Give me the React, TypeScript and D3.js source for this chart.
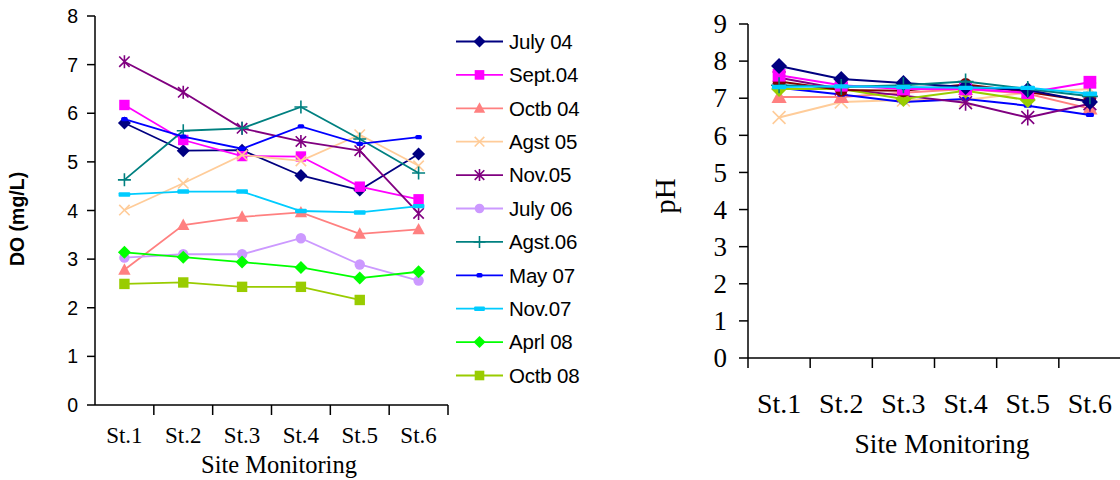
import React from 'react';
import * as d3 from 'd3';

// ---------- data ----------
const stations = ['St.1', 'St.2', 'St.3', 'St.4', 'St.5', 'St.6'];
const doTicks = [0, 1, 2, 3, 4, 5, 6, 7, 8];
const phTicks = [0, 1, 2, 3, 4, 5, 6, 7, 8, 9];

const legendLabels = ['July 04', 'Sept.04', 'Octb 04', 'Agst 05', 'Nov.05', 'July 06', 'Agst.06', 'May 07', 'Nov.07', 'Aprl 08', 'Octb 08'];

const doJuly04 = [5.80, 5.23, 5.24, 4.72, 4.42, 5.16];
const doSept04 = [6.17, 5.45, 5.12, 5.11, 4.49, 4.23];
const doOctb04 = [2.78, 3.70, 3.87, 3.96, 3.52, 3.61];
const doAgst05 = [4.01, 4.56, 5.14, 5.02, 5.56, 4.92];
const doNov05 = [7.06, 6.43, 5.69, 5.42, 5.23, 3.94];
const doJuly06 = [3.03, 3.10, 3.10, 3.43, 2.89, 2.56];
const doAgst06 = [4.63, 5.64, 5.69, 6.13, 5.47, 4.77];
const doMay07 = [5.88, 5.52, 5.27, 5.73, 5.37, 5.51];
const doNov07 = [4.33, 4.39, 4.39, 3.99, 3.96, 4.09];
const doAprl08 = [3.14, 3.04, 2.94, 2.83, 2.61, 2.74];
const doOctb08 = [2.49, 2.52, 2.43, 2.43, 2.16, null];

const phNavy = [7.87, 7.52, 7.41, 7.30, 7.22, 6.90];
const phMagenta = [7.62, 7.35, 7.25, 7.25, 7.15, 7.43];
const phSalmon = [7.03, 7.03, 7.15, 7.25, 7.12, 6.72];
const phPeach = [6.48, 6.90, 6.95, 6.95, 7.15, 7.25];
const phPurple = [7.55, 7.25, 7.07, 6.88, 6.48, 6.85];
const phMaroon = [7.45, 7.22, 7.20, 7.37, 7.17, 6.92];
const phTeal = [7.35, 7.30, 7.35, 7.45, 7.25, 7.05];
const phBlue = [7.28, 7.10, 6.90, 6.98, 6.80, 6.55];
const phCyan = [7.30, 7.32, 7.30, 7.28, 7.28, 7.12];
const phYellowGreen = [7.25, 7.25, 6.98, 7.20, 6.95, null];

// ---------- styles ----------
type Mk = 'diamond' | 'square' | 'triangle' | 'x' | 'asterisk' | 'circle' | 'plus' | 'dashS' | 'dashL';

const doSeries: { values: (number | null)[]; color: string; marker: Mk }[] = [
  { values: doJuly04, color: '#000080', marker: 'diamond' },
  { values: doSept04, color: '#FF00FF', marker: 'square' },
  { values: doOctb04, color: '#FF8080', marker: 'triangle' },
  { values: doAgst05, color: '#FFCC99', marker: 'x' },
  { values: doNov05, color: '#800080', marker: 'asterisk' },
  { values: doJuly06, color: '#CC99FF', marker: 'circle' },
  { values: doAgst06, color: '#008080', marker: 'plus' },
  { values: doMay07, color: '#0000FF', marker: 'dashS' },
  { values: doNov07, color: '#00CCFF', marker: 'dashL' },
  { values: doAprl08, color: '#00FF00', marker: 'diamond' },
  { values: doOctb08, color: '#99CC00', marker: 'square' },
];

const phSeries: { values: (number | null)[]; color: string; marker: Mk }[] = [
  { values: phPeach, color: '#FFCC99', marker: 'x' },
  { values: phSalmon, color: '#FF8080', marker: 'triangle' },
  { values: phBlue, color: '#0000FF', marker: 'dashS' },
  { values: phPurple, color: '#800080', marker: 'asterisk' },
  { values: phYellowGreen, color: '#99CC00', marker: 'diamond' },
  { values: phMaroon, color: '#800000', marker: 'circle' },
  { values: phMagenta, color: '#FF00FF', marker: 'square' },
  { values: phNavy, color: '#000080', marker: 'diamond' },
  { values: phTeal, color: '#008080', marker: 'plus' },
  { values: phCyan, color: '#00CCFF', marker: 'dashL' },
];

function Marker({ type, x, y, color, s }: { type: Mk; x: number; y: number; color: string; s: number }) {
  const t = `translate(${x},${y})`;
  switch (type) {
    case 'diamond':
      return <path transform={t} d={`M0,${-s}L${s},0L0,${s}L${-s},0Z`} fill={color} />;
    case 'square':
      return <rect transform={t} x={-s * 0.8} y={-s * 0.8} width={s * 1.6} height={s * 1.6} fill={color} />;
    case 'triangle':
      return <path transform={t} d={`M0,${-s}L${s * 0.95},${s * 0.75}L${-s * 0.95},${s * 0.75}Z`} fill={color} />;
    case 'circle':
      return <circle cx={x} cy={y} r={s * 0.8} fill={color} />;
    case 'x':
      return <path transform={t} d={`M${-s * 0.8},${-s * 0.8}L${s * 0.8},${s * 0.8}M${-s * 0.8},${s * 0.8}L${s * 0.8},${-s * 0.8}`} stroke={color} strokeWidth={1.6} fill="none" />;
    case 'asterisk':
      return <path transform={t} d={`M${-s * 0.8},${-s * 0.8}L${s * 0.8},${s * 0.8}M${-s * 0.8},${s * 0.8}L${s * 0.8},${-s * 0.8}M0,${-s}L0,${s}`} stroke={color} strokeWidth={1.6} fill="none" />;
    case 'plus':
      return <path transform={t} d={`M${-s},0L${s},0M0,${-s}L0,${s}`} stroke={color} strokeWidth={1.6} fill="none" />;
    case 'dashS':
      return <rect transform={t} x={-s * 0.5} y={-2.2} width={s} height={4.4} rx={1.5} fill={color} />;
    case 'dashL':
      return <rect transform={t} x={-s * 0.9} y={-2.2} width={s * 1.8} height={4.4} rx={1} fill={color} />;
  }
  return null;
}

// ---------- geometry ----------
const L = { x0: 95, x1: 448, yTop: 16, yBot: 405 };
const R = { x0: 748, x1: 1121, yTop: 24, yBot: 358 };

export default function App() {
  const xL = d3.scaleBand<string>().domain(stations).range([L.x0, L.x1]);
  const yL = d3.scaleLinear().domain([0, 8]).range([L.yBot, L.yTop]);
  const xR = d3.scaleBand<string>().domain(stations).range([R.x0, R.x1]);
  const yR = d3.scaleLinear().domain([0, 9]).range([R.yBot, R.yTop]);

  const cxL = (i: number) => (xL(stations[i]) as number) + xL.bandwidth() / 2;
  const cxR = (i: number) => (xR(stations[i]) as number) + xR.bandwidth() / 2;

  const lineL = d3.line<number | null>()
    .defined((d) => d != null)
    .x((_, i) => cxL(i))
    .y((d) => yL(d as number));
  const lineR = d3.line<number | null>()
    .defined((d) => d != null)
    .x((_, i) => cxR(i))
    .y((d) => yR(d as number));

  const sans = 'Arial, "Liberation Sans", sans-serif';
  const serif = '"Times New Roman", "Liberation Serif", serif';

  const legendY = d3.scaleLinear().domain([0, 10]).range([41.5, 375.5]);

  return (
    <svg width={1120} height={480} style={{ position: 'absolute', left: 0, top: 0, background: '#fff' }}>
      <rect width={1120} height={480} fill="#fff" />

      {/* ===== Left chart: DO ===== */}
      <g>
        <line x1={L.x0} x2={L.x0} y1={L.yTop} y2={L.yBot} stroke="#000" strokeWidth={1.5} />
        <line x1={L.x0} x2={L.x1} y1={L.yBot} y2={L.yBot} stroke="#000" strokeWidth={1.5} />
        {doTicks.map((t) => (
          <g key={t}>
            <line x1={L.x0 - 8} x2={L.x0} y1={yL(t)} y2={yL(t)} stroke="#000" strokeWidth={1.5} />
            <text x={78} y={yL(t)} dy="0.36em" textAnchor="end" fontFamily={sans} fontSize={19.5} fill="#000">{t}</text>
          </g>
        ))}
        {stations.map((s, i) => (
          <g key={s}>
            <line x1={(xL(s) as number) + xL.bandwidth()} x2={(xL(s) as number) + xL.bandwidth()} y1={L.yBot} y2={L.yBot + 10} stroke="#000" strokeWidth={1.5} />
            <text x={cxL(i)} y={443} textAnchor="middle" fontFamily={serif} fontSize={23} fill="#000">{s}</text>
          </g>
        ))}
        <text x={279} y={473} textAnchor="middle" fontFamily={serif} fontSize={24.5} fill="#000">Site Monitoring</text>
        <text transform="translate(24,219) rotate(-90)" textAnchor="middle" fontFamily={sans} fontWeight="bold" fontSize={19.5} fill="#000">DO (mg/L)</text>

        {doSeries.map((s, k) => (
          <g key={k}>
            <path d={lineL(s.values) || ''} fill="none" stroke={s.color} strokeWidth={1.8} />
            {s.values.map((v, i) => v == null ? null : (
              <Marker key={i} type={s.marker} x={cxL(i)} y={yL(v)} color={s.color} s={6.5} />
            ))}
          </g>
        ))}

        {legendLabels.map((lab, k) => {
          const y = legendY(k);
          const s = doSeries[k];
          return (
            <g key={lab}>
              <line x1={456} x2={503} y1={y} y2={y} stroke={s.color} strokeWidth={1.8} />
              <Marker type={s.marker} x={479.5} y={y} color={s.color} s={6} />
              <text x={509} y={y} dy="0.36em" fontFamily={sans} fontSize={20.5} letterSpacing={-0.2} fill="#000">{lab}</text>
            </g>
          );
        })}
      </g>

      {/* ===== Right chart: pH ===== */}
      <g>
        <line x1={R.x0} x2={R.x0} y1={R.yTop} y2={R.yBot} stroke="#000" strokeWidth={1.5} />
        <line x1={R.x0} x2={R.x1} y1={R.yBot} y2={R.yBot} stroke="#000" strokeWidth={1.5} />
        <line x1={R.x0} x2={R.x0} y1={R.yBot} y2={R.yBot + 10} stroke="#000" strokeWidth={1.5} />
        {phTicks.map((t) => (
          <g key={t}>
            <line x1={R.x0 - 9} x2={R.x0} y1={yR(t)} y2={yR(t)} stroke="#000" strokeWidth={1.5} />
            <text x={727} y={yR(t)} dy="0.34em" textAnchor="end" fontFamily={serif} fontSize={27} fill="#000">{t}</text>
          </g>
        ))}
        {stations.map((s, i) => (
          <g key={s}>
            <line x1={(xR(s) as number) + xR.bandwidth()} x2={(xR(s) as number) + xR.bandwidth()} y1={R.yBot} y2={R.yBot + 10} stroke="#000" strokeWidth={1.5} />
            <text x={cxR(i)} y={413} textAnchor="middle" fontFamily={serif} fontSize={28} fill="#000">{s}</text>
          </g>
        ))}
        <text x={942} y={453} textAnchor="middle" fontFamily={serif} fontSize={27.5} fill="#000">Site Monitoring</text>
        <text transform="translate(675,196) rotate(-90)" textAnchor="middle" fontFamily={serif} fontSize={29} fill="#000">pH</text>

        {phSeries.map((s, k) => (
          <g key={k}>
            <path d={lineR(s.values) || ''} fill="none" stroke={s.color} strokeWidth={2} />
            {s.values.map((v, i) => v == null ? null : (
              <Marker key={i} type={s.marker} x={cxR(i)} y={yR(v)} color={s.color} s={8} />
            ))}
          </g>
        ))}
      </g>
    </svg>
  );
}
